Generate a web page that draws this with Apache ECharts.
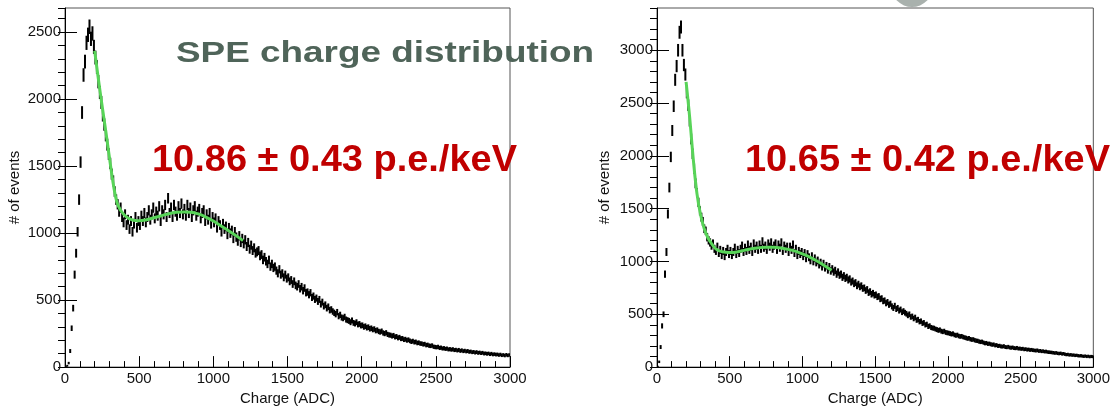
<!DOCTYPE html>
<html>
<head>
<meta charset="utf-8">
<script src="https://cdn.jsdelivr.net/npm/echarts@6/dist/echarts.min.js"></script>
<style>
  html, body { margin: 0; padding: 0; background: #fff; }
  #chart { width: 1113px; height: 411px; }
</style>
</head>
<body>
<div id="chart"></div>
<script>
// Histogram binning (ADC)
const binWidth = 10;
const chargeMin = 0;
const chargeMax = 3000;

// Counts per 10-ADC bin, first PMT (0..3000 ADC)
const leftCounts = [
  3, 10, 30, 120, 290, 440, 690, 850, 1010, 1250,
  1530, 1900, 2180, 2280, 2420, 2480, 2540, 2450, 2490, 2390,
  2310, 2240, 2130, 2050, 1975, 1880, 1810, 1730, 1660, 1590,
  1520, 1440, 1390, 1310, 1250, 1215, 1160, 1190, 1120, 1080,
  1140, 1060, 1100, 1030, 1090, 1010, 1070, 1120, 1040, 1090,
  1060, 1130, 1090, 1150, 1080, 1120, 1170, 1100, 1140, 1190,
  1110, 1160, 1130, 1200, 1090, 1170, 1140, 1210, 1120, 1260,
  1150, 1190, 1120, 1210, 1160, 1130, 1200, 1150, 1220, 1140,
  1180, 1130, 1210, 1150, 1190, 1120, 1170, 1200, 1130, 1160,
  1180, 1110, 1150, 1170, 1090, 1140, 1100, 1150, 1070, 1120,
  1080, 1110, 1040, 1090, 1060, 1010, 1070, 1030, 1050, 990,
  1040, 1000, 1020, 960, 1010, 970, 940, 980, 930, 960,
  920, 950, 900, 930, 880, 910, 870, 890, 850, 860,
  870, 830, 840, 800, 820, 790, 770, 800, 750, 770,
  740, 750, 720, 700, 730, 690, 700, 670, 690, 660,
  670, 640, 650, 620, 640, 610, 600, 620, 585, 600,
  570, 590, 555, 560, 540, 555, 520, 530, 505, 515,
  490, 505, 470, 485, 455, 465, 440, 450, 425, 430,
  415, 405, 395, 410, 380, 390, 370, 365, 375, 355,
  350, 345, 335, 348, 330, 325, 335, 318, 322, 310,
  312, 300, 305, 294, 298, 286, 290, 280, 284, 272,
  276, 266, 262, 268, 255, 250, 256, 244, 240, 238,
  232, 236, 225, 228, 218, 222, 212, 214, 205, 208,
  200, 204, 196, 190, 194, 186, 188, 180, 182, 176,
  175, 170, 172, 164, 166, 160, 158, 161, 152, 150,
  148, 151, 143, 145, 139, 141, 136, 138, 132, 134,
  130, 133, 127, 129, 124, 128, 121, 125, 119, 122,
  117, 120, 114, 116, 111, 113, 108, 112, 106, 109,
  104, 107, 101, 103, 99, 102, 96, 100, 94, 97,
  93, 95, 90, 94, 88, 91, 86, 92, 87, 90
];

// Counts per 10-ADC bin, second PMT (0..3000 ADC)
const rightCounts = [
  5, 50, 190, 390, 500, 880, 1090, 1450, 1700, 1990,
  2240, 2470, 2720, 2850, 3000, 3170, 3220, 3000, 2860, 2770,
  2600, 2480, 2330, 2160, 2020, 1880, 1740, 1650, 1560, 1480,
  1420, 1380, 1310, 1290, 1230, 1200, 1180, 1150, 1170, 1120,
  1100, 1140, 1080, 1110, 1060, 1100, 1050, 1090, 1120, 1070,
  1100, 1060, 1090, 1130, 1070, 1110, 1080, 1120, 1150, 1090,
  1130, 1100, 1160, 1110, 1140, 1090, 1170, 1120, 1150, 1110,
  1160, 1120, 1190, 1130, 1150, 1110, 1170, 1140, 1180, 1120,
  1150, 1170, 1110, 1160, 1130, 1180, 1100, 1150, 1120, 1140,
  1090, 1140, 1110, 1160, 1080, 1120, 1060, 1100, 1070, 1090,
  1050, 1080, 1030, 1070, 1040, 1010, 1050, 1000, 1030, 990,
  1010, 970, 990, 950, 980, 940, 960, 920, 950, 910,
  930, 900, 915, 880, 900, 870, 880, 850, 865, 840,
  850, 825, 835, 805, 815, 790, 800, 770, 785, 760,
  770, 745, 750, 725, 735, 705, 715, 690, 700, 680,
  685, 665, 670, 645, 650, 625, 630, 605, 615, 590,
  600, 575, 560, 580, 550, 560, 535, 545, 520, 530,
  515, 505, 490, 500, 475, 480, 460, 470, 445, 450,
  430, 435, 415, 420, 400, 405, 385, 390, 375, 370,
  368, 360, 355, 348, 352, 340, 335, 340, 328, 325,
  322, 318, 312, 316, 305, 300, 304, 294, 290, 292,
  285, 280, 276, 270, 273, 264, 260, 262, 254, 250,
  248, 242, 238, 240, 232, 226, 228, 220, 222, 216,
  212, 214, 206, 208, 200, 202, 196, 194, 198, 190,
  188, 192, 185, 183, 186, 180, 178, 182, 175, 176,
  172, 174, 168, 170, 165, 167, 162, 164, 160, 158,
  156, 159, 152, 154, 149, 151, 146, 148, 143, 141,
  140, 138, 136, 133, 135, 130, 128, 131, 125, 127,
  122, 118, 120, 115, 117, 113, 114, 110, 112, 108,
  106, 108, 104, 102, 105, 100, 103, 98, 101, 99
];

// Fitted SPE model, sampled along the fit range (200..1200 ADC)
const fitCharge = [200, 225, 250, 275, 300, 325, 350, 375, 400, 425, 450, 475, 500,
  550, 600, 650, 700, 750, 800, 850, 900, 950, 1000, 1050, 1100, 1150, 1200];
const leftFit = [2360, 2150, 1950, 1760, 1560, 1370, 1230, 1170, 1135, 1112, 1100, 1094, 1092,
  1100, 1115, 1130, 1145, 1155, 1158, 1156, 1143, 1120, 1090, 1055, 1020, 983, 944];
const rightFit = [2700, 2360, 1960, 1640, 1440, 1310, 1225, 1170, 1125, 1102, 1092, 1087, 1085,
  1090, 1105, 1120, 1130, 1135, 1134, 1128, 1115, 1098, 1072, 1042, 1005, 963, 917];

// Axis ranges and annotation texts
const leftYMax = 2680;
const rightYMax = 3400;
const titleText = 'SPE charge distribution';
const leftYield = '10.86 \u00b1 0.43 p.e./keV';
const rightYield = '10.65 \u00b1 0.42 p.e./keV';

const toBins = counts => counts.map((c, i) => [chargeMin + (i + 0.5) * binWidth, c]);
const toLine = (xs, ys) => xs.map((x, i) => [x, ys[i]]);
const plain = v => String(v);

const FONT = '"Liberation Sans", Arial, Helvetica, sans-serif';
const TITLE_FONT = 'bold 30px ' + FONT;
const YIELD_FONT = 'bold 37px ' + FONT;
const chart = echarts.init(document.getElementById('chart'), null, { renderer: 'canvas' });

function xAxisFor(gridIndex) {
  return {
    type: 'value', gridIndex, min: chargeMin, max: chargeMax, interval: 500,
    name: 'Charge (ADC)', nameLocation: 'middle', nameGap: 21,
    nameTextStyle: { fontFamily: FONT, fontSize: 15, color: '#111' },
    axisLine: { show: true, onZero: false, lineStyle: { color: '#000', width: 1 } },
    axisTick: { show: true, inside: true, length: 11, lineStyle: { color: '#000' } },
    minorTick: { show: true, splitNumber: 5, length: 6, lineStyle: { color: '#000' } },
    axisLabel: { fontFamily: FONT, fontSize: 15, color: '#111', margin: 4, formatter: plain },
    splitLine: { show: false }
  };
}
function yAxesFor(gridIndex, max, gap) {
  return [{
    type: 'value', gridIndex, min: 0, max, interval: 500,
    name: '# of events', nameLocation: 'middle', nameGap: gap,
    nameTextStyle: { fontFamily: FONT, fontSize: 15, color: '#111' },
    axisLine: { show: true, onZero: false, lineStyle: { color: '#000', width: 1 } },
    axisTick: { show: true, inside: true, length: 12, lineStyle: { color: '#000' } },
    axisLabel: { fontFamily: FONT, fontSize: 15, color: '#111', margin: 4, showMaxLabel: false, formatter: plain },
    splitLine: { show: false }
  }, {
    type: 'value', gridIndex, min: 0, max, interval: 100,
    axisLine: { show: false },
    axisTick: { show: true, inside: true, length: 7, lineStyle: { color: '#000' } },
    axisLabel: { show: false },
    splitLine: { show: false }
  }];
}

// One vertical Poisson error bar (N ± sqrt(N)) per bin
function errorBars(xAxisIndex, yAxisIndex, counts) {
  return {
    type: 'custom', xAxisIndex, yAxisIndex, clip: true,
    data: toBins(counts),
    encode: { x: 0, y: 1 },
    renderItem(params, api) {
      const x = api.value(0), n = api.value(1);
      const e = Math.sqrt(n);
      const top = api.coord([x, n + e]);
      const bot = api.coord([x, n - e]);
      return {
        type: 'line',
        shape: { x1: top[0], y1: top[1] - 0.5, x2: bot[0], y2: bot[1] + 0.5 },
        style: { stroke: '#000', lineWidth: 2 }
      };
    },
    z: 3
  };
}
function fitLine(xAxisIndex, yAxisIndex, ys) {
  return {
    type: 'line', xAxisIndex, yAxisIndex, smooth: 0.4, showSymbol: false,
    data: toLine(fitCharge, ys),
    lineStyle: { color: '#58d458', width: 3 },
    z: 4, silent: true
  };
}

// Horizontal stretch factors so the annotations span their intended widths
const measure = document.createElement('canvas').getContext('2d');
function stretchTo(text, font, width) {
  measure.font = font;
  return width / measure.measureText(text).width;
}
const titleStretch = stretchTo(titleText, TITLE_FONT, 418);
const yieldStretch = stretchTo(leftYield, YIELD_FONT, 365);

chart.setOption({
  animation: false,
  backgroundColor: '#fff',
  grid: [
    { left: 65, top: 8, width: 445, height: 366, show: true, borderColor: '#555', borderWidth: 1, backgroundColor: 'transparent' },
    { left: 657, top: 8, width: 445, height: 366, show: true, borderColor: '#555', borderWidth: 1, backgroundColor: 'transparent' }
  ],
  xAxis: [xAxisFor(0), xAxisFor(1)],
  yAxis: [...yAxesFor(0, leftYMax, 43), ...yAxesFor(1, rightYMax, 45)],
  series: [
    errorBars(0, 0, leftCounts),
    fitLine(0, 0, leftFit),
    errorBars(1, 2, rightCounts),
    fitLine(1, 2, rightFit)
  ],
  graphic: [
    { type: 'circle', shape: { cx: 912, cy: -14, r: 21 }, style: { fill: '#a9b1ad' }, z: 1 },
    {
      type: 'text', x: 176, y: 54, scaleX: titleStretch, z: 10,
      style: { text: titleText, font: TITLE_FONT, fill: '#4f6459', align: 'left', verticalAlign: 'middle' }
    },
    {
      type: 'text', x: 152, y: 161, scaleX: yieldStretch, z: 10,
      style: { text: leftYield, font: YIELD_FONT, fill: '#c00000', align: 'left', verticalAlign: 'middle' }
    },
    {
      type: 'text', x: 745, y: 161, scaleX: yieldStretch, z: 10,
      style: { text: rightYield, font: YIELD_FONT, fill: '#c00000', align: 'left', verticalAlign: 'middle' }
    }
  ]
});
</script>
</body>
</html>
